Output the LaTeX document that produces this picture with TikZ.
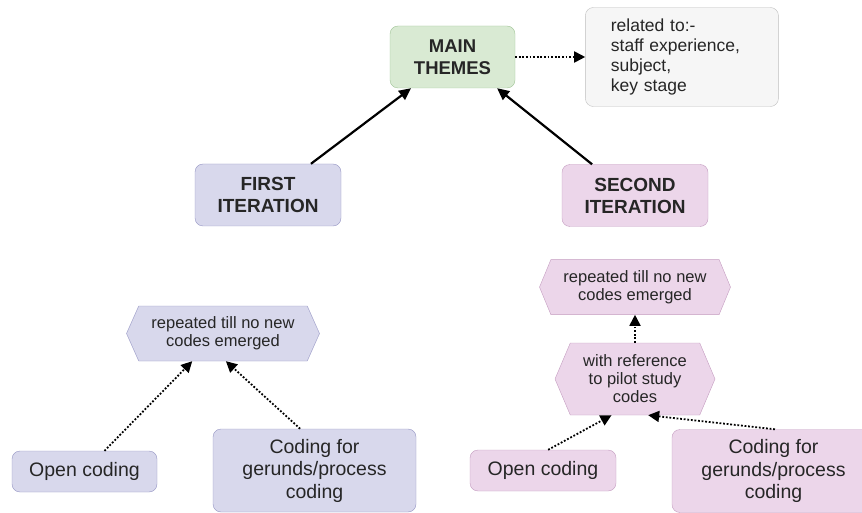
\documentclass[tikz,border=0pt]{standalone}
\usepackage{fontspec}
\setmainfont{Liberation Sans}
\usetikzlibrary{positioning,shapes.symbols,arrows.meta}
\definecolor{themegreen}{RGB}{217,234,211}
\definecolor{themegreenline}{RGB}{160,196,150}
\definecolor{notegray}{RGB}{246,246,246}
\definecolor{notegrayline}{RGB}{190,190,190}
\definecolor{firstblue}{RGB}{216,216,236}
\definecolor{firstblueline}{RGB}{150,150,196}
\definecolor{secondpink}{RGB}{236,214,234}
\definecolor{secondpinkline}{RGB}{196,156,192}

\begin{document}
\begin{tikzpicture}[x=1pt, y=-1pt,
    box/.style={draw, rounded corners=8pt, align=center, inner sep=2pt, text=black!85},
    hexbox/.style={draw, shape=signal, signal to=west and east, align=center,
        inner sep=2pt, text=black!85,
        font=\fontsize{16.5}{18}\selectfont},
    link/.style={-{Triangle[length=12pt,width=11pt]}, line width=2.2pt},
    dotlink/.style={-{Triangle[length=11pt,width=11pt]}, line width=1.8pt,
        dash pattern=on 1.8pt off 1.8pt}
]
    \useasboundingbox (0,0) rectangle (862,513);

    \node[box, fill=themegreen, draw=themegreenline, minimum width=125pt, minimum height=62pt,
        font=\bfseries\fontsize{18.5}{22}\selectfont] (main themes) at (452.5,57) {MAIN\\THEMES};
    \node[box, fill=notegray, draw=notegrayline, minimum width=193pt, minimum height=99pt,
        text width=142pt, align=left, font=\fontsize{17.5}{20}\selectfont,
        right=70pt of main themes] (related) {related to:-\\staff experience,\\subject,\\key stage};
    \draw[dotlink] (main themes.east) -- (related.west);

    \node[box, fill=firstblue, draw=firstblueline, minimum width=146pt, minimum height=62pt,
        font=\bfseries\fontsize{19}{22}\selectfont] (first iteration) at (268,195) {FIRST\\ITERATION};
    \node[box, fill=secondpink, draw=secondpinkline, minimum width=146pt, minimum height=62pt,
        font=\bfseries\fontsize{19}{22}\selectfont] (second iteration) at (635,195.5) {SECOND\\ITERATION};
    \draw[link] (first iteration.36) -- (main themes.217);
    \draw[link] (second iteration.144) -- (main themes.325);

    \node[hexbox, fill=firstblue, draw=firstblueline, minimum width=193pt, minimum height=55pt,
        signal pointer angle=132] (first repeated) at (223,333.5) {repeated till no new\\codes emerged};
    \node[box, fill=firstblue, draw=firstblueline, minimum width=145pt, minimum height=41pt,
        font=\fontsize{19.5}{22.5}\selectfont] (first open) at (84.5,471.5) {Open coding};
    \node[box, fill=firstblue, draw=firstblueline, minimum width=203pt, minimum height=83pt,
        font=\fontsize{19.5}{22.5}\selectfont] (first gerunds) at (314.5,470.5) {Coding for\\gerunds/process\\coding};
    \draw[dotlink] (first open.46) -- (first repeated.222);
    \draw[dotlink] (first gerunds.109) -- (first repeated.276);

    \node[hexbox, fill=secondpink, draw=secondpinkline, minimum width=160pt, minimum height=72pt,
        signal pointer angle=134] (pilot codes) at (635,379) {with reference\\to pilot study\\codes};
    \node[hexbox, fill=secondpink, draw=secondpinkline, minimum width=191pt, minimum height=55pt,
        signal pointer angle=135, above=28pt of pilot codes] (second repeated) {repeated till no new\\codes emerged};
    \node[box, fill=secondpink, draw=secondpinkline, minimum width=146pt, minimum height=41pt,
        font=\fontsize{19.5}{22.5}\selectfont] (second open) at (543,470.5) {Open coding};
    \node[box, fill=secondpink, draw=secondpinkline, minimum width=203pt, minimum height=83pt,
        font=\fontsize{19.5}{22.5}\selectfont] (second gerunds) at (773.5,471) {Coding for\\gerunds/process\\coding};
    \draw[dotlink] (pilot codes.north) -- (second repeated.south);
    \draw[dotlink] (second open.76) -- (pilot codes.237);
    \draw[dotlink] (second gerunds.88) -- (pilot codes.290);
\end{tikzpicture}
\end{document}
